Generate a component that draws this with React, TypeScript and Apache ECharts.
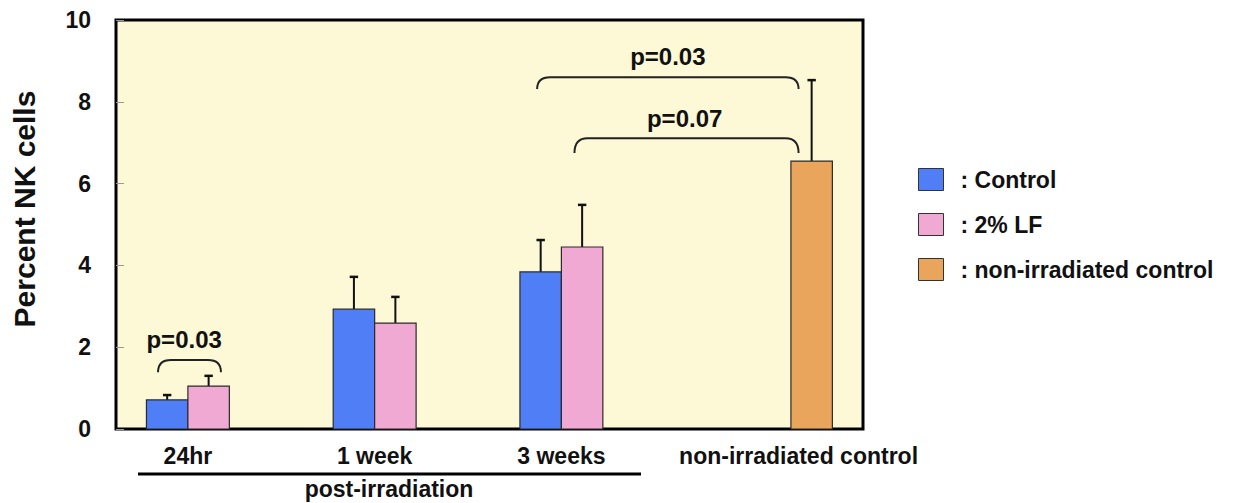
import React, { useEffect, useRef } from "react";
import * as echarts from "echarts";

const categories = ["24hr", "1 week", "3 weeks", "non-irradiated control"];
const groupPos = [0, 1, 2];
const nonIrrPos = [3.34];
const catLabelPos = [0, 1, 2, 3.27];

const controlMean = [0.71, 2.93, 3.84];
const controlSD = [0.12, 0.79, 0.78];
const lfMean = [1.05, 2.59, 4.45];
const lfSD = [0.25, 0.64, 1.03];
const nonIrrMean = [6.55];
const nonIrrSD = [1.98];

const seriesNames = ["Control", "2% LF", "non-irradiated control"];

const yMin = 0;
const yMax = 10;
const yInterval = 2;
const yTitle = "Percent NK cells";

// significance brackets
const bracketX1 = [-0.16, 1.87, 2.07];
const bracketX2 = [0.177, 3.27, 3.27];
const bracketTop = [1.69, 8.6, 7.11];
const bracketEnd = [1.39, 8.31, 6.75];
const pLabels = ["p=0.03", "p=0.03", "p=0.07"];
const pLabelX = [-0.02, 2.57, 2.66];
const pLabelY = [2.2, 9.1, 7.58];

const FONT = '"Liberation Sans", Arial, Helvetica, sans-serif';
const BAR_W = 0.222;
const CAP_W = 0.045;

function barRenderer(offset: number, color: string) {
  return (params: any, api: any) => {
    const x = api.value(0) + offset;
    const m = api.value(1);
    const sd = api.value(2);
    const base = api.coord([x, 0]);
    const top = api.coord([x, m]);
    const errTop = api.coord([x, m + sd]);
    const w = api.size([BAR_W, 0])[0];
    const cw = api.size([CAP_W, 0])[0];
    return {
      type: "group",
      children: [
        {
          type: "line",
          shape: { x1: top[0], y1: top[1], x2: errTop[0], y2: errTop[1] },
          style: { stroke: "#111", lineWidth: 2 },
        },
        {
          type: "line",
          shape: { x1: errTop[0] - cw / 2, y1: errTop[1], x2: errTop[0] + cw / 2, y2: errTop[1] },
          style: { stroke: "#111", lineWidth: 2.5 },
        },
        {
          type: "rect",
          shape: { x: base[0] - w / 2, y: top[1], width: w, height: base[1] - top[1] },
          style: { fill: color, stroke: "#2a2a2a", lineWidth: 1.2 },
        },
      ],
    };
  };
}

export default function App() {
  const ref = useRef<HTMLDivElement>(null);

  useEffect(() => {
    document.body.style.margin = "0";
    if (!ref.current) return;
    const chart = echarts.init(ref.current, undefined, { renderer: "svg" });

    const colors = ["#4F7EF6", "#EFA9D3", "#EAA55C"];

    const option: any = {
      animation: false,
      grid: {
        left: 116,
        top: 20,
        right: 387,
        bottom: 74,
        show: true,
        backgroundColor: "#FDF8D6",
        borderColor: "#000",
        borderWidth: 3,
        z: 0,
      },
      legend: {
        data: seriesNames,
        orient: "vertical",
        left: 918,
        top: 168,
        padding: 0,
        itemWidth: 25,
        itemHeight: 22,
        itemGap: 22,
        icon: "rect",
        selectedMode: false,
        itemStyle: { borderColor: "#333", borderWidth: 1 },
        formatter: (name: string) => ": " + name,
        textStyle: {
          fontFamily: FONT,
          fontWeight: "bold",
          fontSize: 23,
          color: "#111",
          padding: [0, 0, 0, 12],
        },
      },
      xAxis: {
        type: "value",
        min: -0.385,
        max: 3.615,
        show: false,
      },
      yAxis: {
        type: "value",
        min: yMin,
        max: yMax,
        interval: yInterval,
        axisLine: { show: false, onZero: false },
        axisTick: { show: true, inside: true, length: 8, lineStyle: { color: "#999", width: 1 } },
        splitLine: { show: false },
        axisLabel: { fontFamily: FONT, fontWeight: "bold", fontSize: 23, color: "#111", margin: 25 },
      },
      series: [
        {
          name: seriesNames[0],
          type: "custom",
          itemStyle: { color: colors[0] },
          renderItem: barRenderer(-BAR_W / 2, colors[0]),
          data: controlMean.map((m, i) => [groupPos[i], m, controlSD[i]]),
          z: 3,
        },
        {
          name: seriesNames[1],
          type: "custom",
          itemStyle: { color: colors[1] },
          renderItem: barRenderer(BAR_W / 2, colors[1]),
          data: lfMean.map((m, i) => [groupPos[i], m, lfSD[i]]),
          z: 3,
        },
        {
          name: seriesNames[2],
          type: "custom",
          itemStyle: { color: colors[2] },
          renderItem: barRenderer(0, colors[2]),
          data: nonIrrMean.map((m, i) => [nonIrrPos[i], m, nonIrrSD[i]]),
          z: 3,
        },
        {
          name: "brackets",
          type: "custom",
          silent: true,
          z: 4,
          renderItem: (params: any, api: any) => {
            const i = params.dataIndex;
            const a = api.coord([bracketX1[i], bracketTop[i]]);
            const b = api.coord([bracketX2[i], bracketTop[i]]);
            const e = api.coord([bracketX1[i], bracketEnd[i]]);
            const t = api.coord([pLabelX[i], pLabelY[i]]);
            const r = 13;
            const d =
              `M${a[0]},${e[1]} Q${a[0]},${a[1]} ${a[0] + r},${a[1]} ` +
              `L${b[0] - r},${b[1]} Q${b[0]},${b[1]} ${b[0]},${e[1]}`;
            return {
              type: "group",
              children: [
                {
                  type: "path",
                  shape: { pathData: d },
                  style: { fill: "none", stroke: "#222", lineWidth: 2 },
                },
                {
                  type: "text",
                  style: {
                    x: t[0],
                    y: t[1],
                    text: pLabels[i],
                    textAlign: "center",
                    textVerticalAlign: "middle",
                    font: `bold 24px ${FONT}`,
                    fill: "#111",
                  },
                },
              ],
            };
          },
          data: bracketX1.map((x, i) => [x, bracketTop[i]]),
        },
        {
          name: "categoryLabels",
          type: "custom",
          silent: true,
          z: 4,
          renderItem: (params: any, api: any) => {
            const i = params.dataIndex;
            const p = api.coord([catLabelPos[i], 0]);
            return {
              type: "text",
              style: {
                x: p[0],
                y: p[1] + 27,
                text: categories[i],
                textAlign: "center",
                textVerticalAlign: "middle",
                font: `bold 23px ${FONT}`,
                fill: "#111",
              },
            };
          },
          data: catLabelPos.map((x) => [x, 0]),
        },
      ],
      graphic: [
        {
          type: "text",
          x: 24,
          y: 209,
          rotation: Math.PI / 2,
          style: {
            x: 0,
            y: 0,
            text: yTitle,
            textAlign: "center",
            textVerticalAlign: "middle",
            font: `bold 30px ${FONT}`,
            fill: "#111",
          },
        },
        {
          type: "line",
          shape: { x1: 138, y1: 474, x2: 641, y2: 474 },
          style: { stroke: "#000", lineWidth: 3 },
        },
        {
          type: "text",
          style: {
            x: 389,
            y: 489,
            text: "post-irradiation",
            textAlign: "center",
            textVerticalAlign: "middle",
            font: `bold 23px ${FONT}`,
            fill: "#111",
          },
        },
      ],
    };

    chart.setOption(option);
    return () => chart.dispose();
  }, []);

  return <div ref={ref} style={{ width: 1250, height: 503 }} />;
}
